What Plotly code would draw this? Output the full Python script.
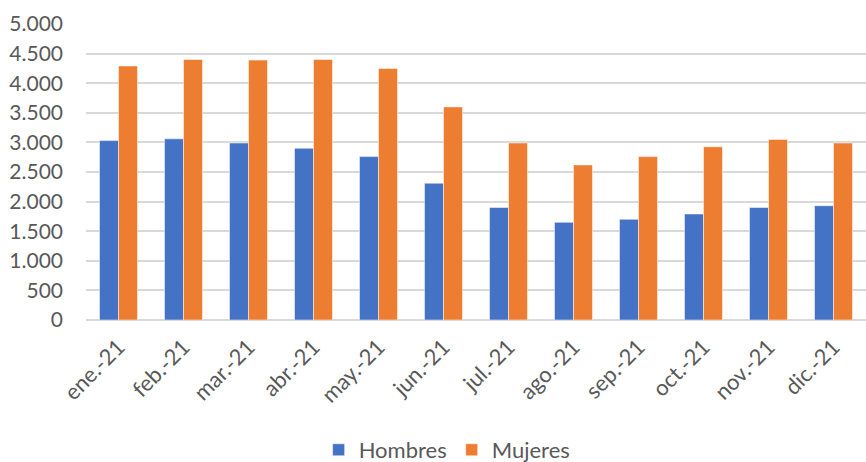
import plotly.graph_objects as go

months = ["ene.-21", "feb.-21", "mar.-21", "abr.-21", "may.-21", "jun.-21",
          "jul.-21", "ago.-21", "sep.-21", "oct.-21", "nov.-21", "dic.-21"]
hombres = [3030, 3060, 2990, 2900, 2760, 2310, 1900, 1650, 1700, 1790, 1900, 1930]
mujeres = [4290, 4400, 4390, 4400, 4250, 3600, 2990, 2620, 2760, 2925, 3050, 2990]
yticks = [0, 500, 1000, 1500, 2000, 2500, 3000, 3500, 4000, 4500, 5000]
yticklabels = ["0", "500", "1.000", "1.500", "2.000", "2.500", "3.000",
               "3.500", "4.000", "4.500", "5.000"]

FONT = "Lato"
GREY = "#595959"

fig = go.Figure()
fig.add_trace(go.Bar(name="Hombres", x=months, y=hombres,
                     marker=dict(color="#4472C4", line=dict(color="white", width=0.5))))
fig.add_trace(go.Bar(name="Mujeres", x=months, y=mujeres,
                     marker=dict(color="#ED7D31", line=dict(color="white", width=0.5))))

fig.update_layout(
    width=866, height=462,
    margin=dict(l=86, r=0, t=24, b=142, autoexpand=False),
    barmode="group", bargap=0.415, bargroupgap=0,
    plot_bgcolor="white", paper_bgcolor="white",
    font=dict(family=FONT, color=GREY, size=22),
    legend=dict(orientation="h", xref="paper", x=0.463, xanchor="center",
                yref="container", y=0.026, yanchor="middle",
                font=dict(family=FONT, size=22, color=GREY),
                itemwidth=30, traceorder="normal"),
    showlegend=True,
)
fig.update_xaxes(tickangle=-45, showgrid=False, showline=False, ticks="",
                 tickfont=dict(family=FONT, size=22, color=GREY),
                 ticklabelstandoff=9,
                 range=[-0.5, 11.5], automargin=False)
fig.update_yaxes(range=[0, 5000], tickvals=yticks, ticktext=yticklabels,
                 showgrid=True, gridcolor="#d9d9d9", gridwidth=1.5,
                 zeroline=True, zerolinecolor="#d9d9d9", zerolinewidth=1.5,
                 showline=False, ticks="", ticklabelstandoff=22, automargin=False,
                 tickfont=dict(family=FONT, size=21, color=GREY))

fig.write_html("out.html", config={"displayModeBar": False},
               post_script="document.body.style.margin='0';document.body.style.padding='0';")
